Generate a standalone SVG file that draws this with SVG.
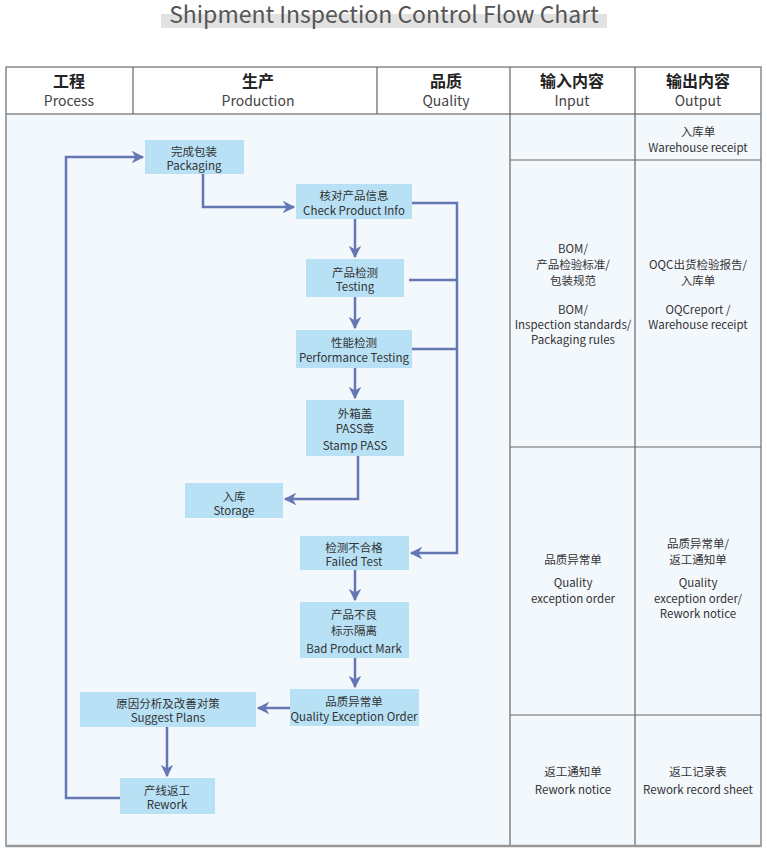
<svg xmlns="http://www.w3.org/2000/svg" width="767" height="850" viewBox="0 0 767 850">
<defs>
<style>
text{font-family:"Noto Sans CJK SC","Noto Sans",sans-serif;fill:#333;text-anchor:middle}
.t{font-size:11.5px}
.hc{font-size:16px;font-weight:bold;fill:#222}
.he{font-size:14px;fill:#444}
.node rect{fill:#b8e1f6}
.grid{stroke:#666;stroke-width:1.2;fill:none}
.conn path{fill:none;stroke:#6576b4;stroke-width:2.5}
</style>
<marker id="ah" viewBox="0 0 10 10" refX="9" refY="5" markerWidth="5" markerHeight="5" markerUnits="strokeWidth" orient="auto">
<path d="M0,0 L10,5 L0,10 L3,5 z" fill="#6576b4"/>
</marker>
</defs>
<rect width="767" height="850" fill="#fff"/>
<!-- title -->
<rect x="161" y="14" width="446" height="14" fill="#e2e2e2"/>
<text x="384" y="23" style="font-size:23px;fill:#555">Shipment Inspection Control Flow Chart</text>
<!-- table -->
<g id="table">
<rect x="6" y="114" width="755" height="732" fill="#f3f8fd"/>
<rect x="6" y="67" width="755" height="779" fill="none" stroke="#888" stroke-width="1.5"/>
<line x1="6" y1="114" x2="761" y2="114" stroke="#888" stroke-width="1.5"/>
<line x1="133" y1="67" x2="133" y2="114" class="grid"/>
<line x1="377" y1="67" x2="377" y2="114" class="grid"/>
<line x1="510" y1="67" x2="510" y2="846" class="grid"/>
<line x1="635" y1="67" x2="635" y2="846" class="grid"/>
<line x1="510" y1="160" x2="761" y2="160" class="grid"/>
<line x1="510" y1="447" x2="761" y2="447" class="grid"/>
<line x1="510" y1="715" x2="761" y2="715" class="grid"/>
<line x1="6" y1="846" x2="761" y2="846" stroke="#999" stroke-width="2.5"/>
<text x="69" y="87" class="hc">工程</text>
<text x="69" y="106" class="he">Process</text>
<text x="258" y="87" class="hc">生产</text>
<text x="258" y="106" class="he">Production</text>
<text x="446" y="87" class="hc">品质</text>
<text x="446" y="106" class="he">Quality</text>
<text x="572" y="87" class="hc">输入内容</text>
<text x="572" y="106" class="he">Input</text>
<text x="698" y="87" class="hc">输出内容</text>
<text x="698" y="106" class="he">Output</text>
<text x="698" y="136" class="t">入库单</text>
<text x="698" y="152" class="t">Warehouse receipt</text>
<text x="573" y="253" class="t">BOM/</text>
<text x="573" y="269" class="t">产品检验标准/</text>
<text x="573" y="285" class="t">包装规范</text>
<text x="573" y="314" class="t">BOM/</text>
<text x="573" y="329" class="t">Inspection standards/</text>
<text x="573" y="344" class="t">Packaging rules</text>
<text x="698" y="269" class="t">OQC出货检验报告/</text>
<text x="698" y="285" class="t">入库单</text>
<text x="698" y="314" class="t">OQCreport /</text>
<text x="698" y="329" class="t">Warehouse receipt</text>
<text x="573" y="564" class="t">品质异常单</text>
<text x="573" y="587" class="t">Quality</text>
<text x="573" y="603" class="t">exception order</text>
<text x="698" y="548" class="t">品质异常单/</text>
<text x="698" y="564" class="t">返工通知单</text>
<text x="698" y="587" class="t">Quality</text>
<text x="698" y="603" class="t">exception order/</text>
<text x="698" y="618" class="t">Rework notice</text>
<text x="573" y="776" class="t">返工通知单</text>
<text x="573" y="794" class="t">Rework notice</text>
<text x="698" y="776" class="t">返工记录表</text>
<text x="698" y="794" class="t">Rework record sheet</text>
</g>
<!-- connectors -->
<g id="connectors" class="conn">
<path d="M120,798 H66 V157 H143" marker-end="url(#ah)"/>
<path d="M203,174 V207 H294" marker-end="url(#ah)"/>
<path d="M355,219 V257" marker-end="url(#ah)"/>
<path d="M355,297 V328" marker-end="url(#ah)"/>
<path d="M355,368 V398" marker-end="url(#ah)"/>
<path d="M358,456 V499 H285" marker-end="url(#ah)"/>
<path d="M412,203 H457 V553 H411" marker-end="url(#ah)"/>
<path d="M409,280 H457"/>
<path d="M412,349 H457"/>
<path d="M355,570 V600" marker-end="url(#ah)"/>
<path d="M355,658 V687" marker-end="url(#ah)"/>
<path d="M290,708 H258" marker-end="url(#ah)"/>
<path d="M167,727 V776" marker-end="url(#ah)"/>
</g>
<!-- nodes -->
<g id="n-packaging" class="node"><rect x="145" y="140" width="99" height="34"/><text x="194" y="156" class="t">完成包装</text><text x="194" y="170" class="t">Packaging</text></g>
<g id="n-check" class="node"><rect x="296" y="184" width="116" height="35"/><text x="354" y="200" class="t">核对产品信息</text><text x="354" y="215" class="t">Check Product Info</text></g>
<g id="n-testing" class="node"><rect x="306" y="259" width="98" height="38"/><text x="355" y="277" class="t">产品检测</text><text x="355" y="291" class="t">Testing</text></g>
<g id="n-perf" class="node"><rect x="296" y="330" width="116" height="38"/><text x="354" y="347" class="t">性能检测</text><text x="354" y="362" class="t">Performance Testing</text></g>
<g id="n-stamp" class="node"><rect x="306" y="400" width="98" height="56"/><text x="355" y="418" class="t">外箱盖</text><text x="355" y="433" class="t">PASS章</text><text x="355" y="450" class="t">Stamp PASS</text></g>
<g id="n-storage" class="node"><rect x="185" y="483" width="98" height="35"/><text x="234" y="501" class="t">入库</text><text x="234" y="515" class="t">Storage</text></g>
<g id="n-failed" class="node"><rect x="300" y="536" width="109" height="34"/><text x="354" y="552" class="t">检测不合格</text><text x="354" y="566" class="t">Failed Test</text></g>
<g id="n-bad" class="node"><rect x="300" y="602" width="109" height="56"/><text x="354" y="619" class="t">产品不良</text><text x="354" y="635" class="t">标示隔离</text><text x="354" y="653" class="t">Bad Product Mark</text></g>
<g id="n-qeo" class="node"><rect x="290" y="689" width="129" height="37"/><text x="354" y="706" class="t">品质异常单</text><text x="354" y="721" class="t">Quality Exception Order</text></g>
<g id="n-suggest" class="node"><rect x="80" y="692" width="176" height="35"/><text x="168" y="708" class="t">原因分析及改善对策</text><text x="168" y="722" class="t">Suggest Plans</text></g>
<g id="n-rework" class="node"><rect x="120" y="778" width="95" height="36"/><text x="167" y="795" class="t">产线返工</text><text x="167" y="809" class="t">Rework</text></g>
</svg>
